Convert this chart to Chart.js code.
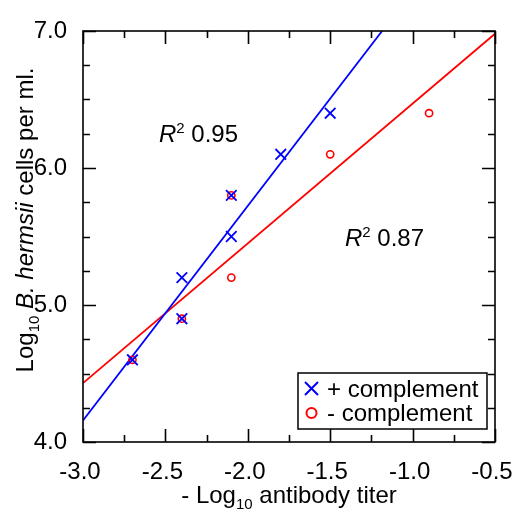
<!DOCTYPE html>
<html lang="en">
<head>
  <meta charset="UTF-8" />
  <title>Complement killing of B. hermsii</title>
  <script src="https://cdn.jsdelivr.net/npm/chart.js"></script>
  <style>
    body { margin: 0; background: #fff; }
    canvas { display: block; }
  </style>
</head>
<body>
  <canvas id="titerChart" width="512" height="510"></canvas>

  <script>
    // - log10 antibody titer vs log10 cells per ml
    const plusX = [-2.7, -2.4, -2.4, -2.1, -2.1, -1.8, -1.5];
    const plusY = [4.6, 5.2, 4.9, 5.5, 5.8, 6.1, 6.4];
    const minusX = [-2.7, -2.4, -2.1, -2.1, -1.5, -0.9];
    const minusY = [4.6, 4.9, 5.2, 5.8, 6.1, 6.4];

    // regression lines, as drawn (end points)
    const plusFitX = [-3.0, -1.185];
    const plusFitY = [4.158, 7.0];
    const minusFitX = [-3.0, -0.5];
    const minusFitY = [4.43, 6.98];

    const xTicks = [-3.0, -2.5, -2.0, -1.5, -1.0, -0.5];
    const yTicks = [4.0, 5.0, 6.0, 7.0];
    const r2Labels = ['0.95', '0.87'];
    const seriesNames = ['+ complement', '- complement'];

    const FONT = "'Liberation Sans', Arial, sans-serif";
    const BLUE = '#0000ff';
    const RED = '#ff0000';

    const pts = (xs, ys) => xs.map((x, i) => ({ x: x, y: ys[i] }));

    // draws a run of text pieces (normal / italic / sub / sup) starting at x
    function richText(ctx, parts, x, y, align) {
      const size = 24, small = 15;
      const fontOf = p => (p.italic ? 'italic ' : '') + (p.sub || p.sup ? small : size) + 'px ' + FONT;
      let total = 0;
      parts.forEach(p => { ctx.font = fontOf(p); total += ctx.measureText(p.t).width; });
      let cx = align === 'center' ? x - total / 2 : x;
      ctx.textAlign = 'left';
      ctx.textBaseline = 'alphabetic';
      parts.forEach(p => {
        ctx.font = fontOf(p);
        const dy = p.sub ? 6 : (p.sup ? -9 : 0);
        ctx.fillText(p.t, cx, y + dy);
        cx += ctx.measureText(p.t).width;
      });
    }

    const frame = {
      id: 'frame',
      afterDraw(chart) {
        const ctx = chart.ctx;
        const { left, right, top, bottom } = chart.chartArea;
        const xs = chart.scales.x, ys = chart.scales.y;
        ctx.save();
        ctx.strokeStyle = '#000';
        ctx.fillStyle = '#000';
        ctx.lineWidth = 1.6;
        ctx.strokeRect(left, top, right - left, bottom - top);

        // inward ticks on all four sides
        ctx.beginPath();
        for (let v = xs.min; v <= xs.max + 1e-9; v += 0.25) {
          const px = Math.round(xs.getPixelForValue(v)) + 0.5;
          const major = xTicks.some(t => Math.abs(t - v) < 1e-6);
          const len = major ? 13 : 7;
          ctx.moveTo(px, bottom); ctx.lineTo(px, bottom - len);
          ctx.moveTo(px, top); ctx.lineTo(px, top + len);
        }
        for (let v = ys.min; v <= ys.max + 1e-9; v += 0.25) {
          const py = Math.round(ys.getPixelForValue(v)) + 0.5;
          const major = yTicks.some(t => Math.abs(t - v) < 1e-6);
          const len = major ? 13 : 7;
          ctx.moveTo(left, py); ctx.lineTo(left + len, py);
          ctx.moveTo(right, py); ctx.lineTo(right - len, py);
        }
        ctx.stroke();

        // axis titles
        richText(ctx, [{ t: '- Log' }, { t: '10', sub: true }, { t: ' antibody titer' }],
          (left + right) / 2, 503, 'center');
        ctx.save();
        ctx.translate(33, 220);
        ctx.rotate(-Math.PI / 2);
        richText(ctx, [{ t: 'Log' }, { t: '10', sub: true }, { t: ' B. hermsii', italic: true }, { t: ' cells per ml.' }],
          0, 0, 'center');
        ctx.restore();

        // R squared notes
        richText(ctx, [{ t: 'R', italic: true }, { t: '2', sup: true }, { t: ' ' + r2Labels[0] }], 159, 142, 'left');
        richText(ctx, [{ t: 'R', italic: true }, { t: '2', sup: true }, { t: ' ' + r2Labels[1] }], 345, 246, 'left');

        // legend box
        const bx = 298, by = 373, bw = 189, bh = 56;
        ctx.fillStyle = '#fff';
        ctx.fillRect(bx, by, bw, bh);
        ctx.lineWidth = 1.5;
        ctx.strokeRect(bx, by, bw, bh);
        ctx.lineWidth = 2;
        ctx.strokeStyle = BLUE;
        ctx.beginPath();
        ctx.moveTo(305, 382); ctx.lineTo(318, 395);
        ctx.moveTo(318, 382); ctx.lineTo(305, 395);
        ctx.stroke();
        ctx.strokeStyle = RED;
        ctx.beginPath();
        ctx.arc(311.5, 413, 5, 0, Math.PI * 2);
        ctx.stroke();
        ctx.fillStyle = '#000';
        ctx.font = '24px ' + FONT;
        ctx.textAlign = 'left';
        ctx.textBaseline = 'alphabetic';
        ctx.fillText(seriesNames[0], 327, 397);
        ctx.fillText(seriesNames[1], 327, 421);
        ctx.restore();
      }
    };

    const ctx = document.getElementById('titerChart').getContext('2d');
    new Chart(ctx, {
      type: 'scatter',
      data: {
        datasets: [
          {
            label: seriesNames[0],
            data: pts(plusX, plusY),
            pointStyle: 'crossRot',
            pointRadius: 7.5,
            pointBorderWidth: 1.8,
            borderColor: BLUE,
            backgroundColor: BLUE,
            order: 1
          },
          {
            label: seriesNames[1],
            data: pts(minusX, minusY),
            pointStyle: 'circle',
            pointRadius: 3.6,
            pointBorderWidth: 1.6,
            borderColor: RED,
            backgroundColor: 'rgba(0,0,0,0)',
            order: 2
          },
          {
            label: 'fit +',
            data: pts(plusFitX, plusFitY),
            showLine: true,
            pointRadius: 0,
            borderColor: BLUE,
            borderWidth: 1.8,
            order: 3
          },
          {
            label: 'fit -',
            data: pts(minusFitX, minusFitY),
            showLine: true,
            pointRadius: 0,
            borderColor: RED,
            borderWidth: 1.8,
            order: 4
          }
        ]
      },
      options: {
        responsive: false,
        animation: false,
        layout: { padding: { left: 0, top: 31, right: 17, bottom: 0 } },
        plugins: {
          legend: { display: false },
          tooltip: { enabled: false }
        },
        scales: {
          x: {
            type: 'linear',
            min: -3.0,
            max: -0.5,
            afterFit: s => { s.height = 68; s.paddingLeft = 0; s.paddingRight = 0; },
            afterBuildTicks: s => { s.ticks = xTicks.map(v => ({ value: v })); },
            grid: { display: false },
            border: { display: false },
            ticks: {
              padding: 8,
              labelOffset: -3,
              color: '#000',
              font: { family: FONT, size: 24 },
              callback: v => v.toFixed(1),
              maxRotation: 0
            }
          },
          y: {
            type: 'linear',
            min: 4.0,
            max: 7.0,
            afterFit: s => { s.width = 83; s.paddingTop = 0; s.paddingBottom = 0; },
            afterBuildTicks: s => { s.ticks = yTicks.map(v => ({ value: v })); },
            grid: { display: false },
            border: { display: false },
            ticks: {
              padding: 8,
              color: '#000',
              font: { family: FONT, size: 24 },
              callback: v => v.toFixed(1)
            }
          }
        }
      },
      plugins: [frame]
    });
  </script>
</body>
</html>
